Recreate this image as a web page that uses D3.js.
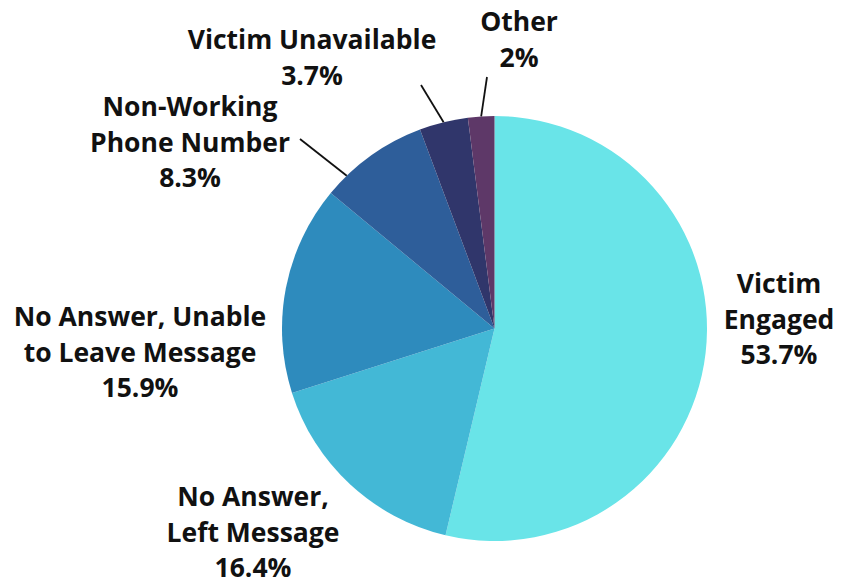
<!DOCTYPE html>
<html>
<head>
<meta charset="utf-8">
<script src="https://cdn.jsdelivr.net/npm/d3@7"></script>
<style>
  html, body { margin: 0; padding: 0; background: #fff; }
  svg text { font-family: "Open Sans", "Noto Sans", sans-serif; font-weight: 700; fill: #111; }
</style>
</head>
<body>
<svg id="chart" width="851" height="582"></svg>
<script>
// Call outcome categories and their shares (percent)
const categories = [
  "Victim Engaged",
  "No Answer, Left Message",
  "No Answer, Unable to Leave Message",
  "Non-Working Phone Number",
  "Victim Unavailable",
  "Other"
];
const values = [53.7, 16.4, 15.9, 8.3, 3.7, 2];
const valueLabels = ["53.7%", "16.4%", "15.9%", "8.3%", "3.7%", "2%"];
const labelLines = [
  ["Victim", "Engaged"],
  ["No Answer,", "Left Message"],
  ["No Answer, Unable", "to Leave Message"],
  ["Non-Working", "Phone Number"],
  ["Victim Unavailable"],
  ["Other"]
];

const colors = ["#69e4e8", "#43b8d6", "#2e8bbd", "#2e5e9a", "#30366b", "#5e3868"];

// Label placement: text centre x, first baseline y; optional leader line end and angle shift
const labelLayout = [
  { x: 779, y: 293 },
  { x: 253, y: 506 },
  { x: 140, y: 326 },
  { x: 190, y: 116, lx: 300, ly: 139, shift: -0.15 },
  { x: 312, y: 49,  lx: 421, ly: 85 },
  { x: 519, y: 31,  lx: 487, ly: 77 }
];

const svg = d3.select("#chart");
const cx = 494.5, cy = 328.5, r = 212.5;
const lineH = 35.5;

const data = categories.map((c, i) => ({ name: c, value: values[i], i }));

const pie = d3.pie().value(d => d.value).sort(null);
const arc = d3.arc().innerRadius(0).outerRadius(r);
const arcs = pie(data);

const g = svg.append("g").attr("transform", `translate(${cx},${cy})`);

g.selectAll("path.slice")
  .data(arcs)
  .join("path")
  .attr("class", "slice")
  .attr("d", arc)
  .attr("fill", d => colors[d.data.i]);

// Leader lines for the narrow slices
arcs.forEach(a => {
  const L = labelLayout[a.data.i];
  if (L.lx === undefined) return;
  const mid = (a.startAngle + a.endAngle) / 2 + (L.shift || 0);
  const x0 = Math.sin(mid) * r, y0 = -Math.cos(mid) * r;
  g.append("line")
    .attr("x1", x0).attr("y1", y0)
    .attr("x2", L.lx - cx).attr("y2", L.ly - cy)
    .attr("stroke", "#111")
    .attr("stroke-width", 1.8);
});

// Category labels with percentages
arcs.forEach(a => {
  const i = a.data.i;
  const L = labelLayout[i];
  const lines = labelLines[i].concat([valueLabels[i]]);
  const t = svg.append("text")
    .attr("x", L.x).attr("y", L.y)
    .attr("text-anchor", "middle")
    .attr("font-size", 26.5);
  lines.forEach((s, k) => {
    t.append("tspan").attr("x", L.x).attr("dy", k === 0 ? 0 : lineH).text(s);
  });
});
</script>
</body>
</html>
